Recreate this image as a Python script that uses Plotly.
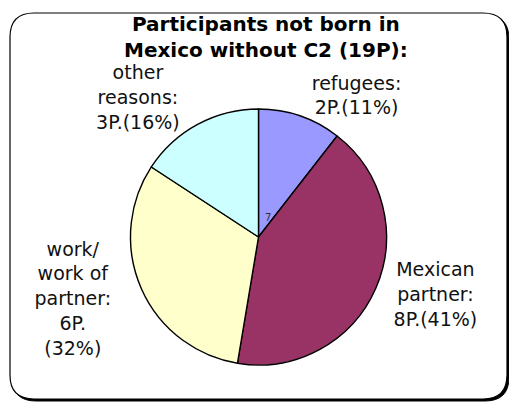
import plotly.graph_objects as go

W, H = 509, 403

# ---- data ----
categories = ["refugees", "Mexican partner", "work/work of partner", "other reasons"]
participants = [2, 8, 6, 3]
percent_shown = [11, 41, 32, 16]
label_heads = ["refugees:", "Mexican<br>partner:", "work/<br>work of<br>partner:", "other<br>reasons:"]
count_sep = ["<br>", "<br>", "<br>", "<br>"]
pct_sep = ["", "", "<br>", ""]
colors = ["#9999FF", "#993366", "#FFFFCC", "#CCFFFF"]
title_lines = ["Participants not born in", "Mexico without C2 (19P):"]

texts = [f"{h}{cs}{n}P.{ps}({p}%)" for h, cs, n, ps, p in
         zip(label_heads, count_sep, participants, pct_sep, percent_shown)]

# ---- layout helpers (pixels -> paper) ----
def px(x):
    return x / W

def py(y):
    return 1 - y / H

cx, cy, r = 258.5, 237, 128

fig = go.Figure()
fig.add_trace(go.Pie(
    labels=categories,
    values=participants,
    text=texts,
    textinfo="text",
    textposition="outside",
    sort=False,
    direction="clockwise",
    rotation=0,
    marker=dict(colors=colors, line=dict(color="black", width=1.4)),
    textfont=dict(family="DejaVu Sans", size=19, color="#111111"),
    hoverinfo="label+value",
    showlegend=False,
    domain=dict(x=[px(cx - r), px(cx + r)], y=[py(cy + r), py(cy - r)]),
))

def rrect(x0, y0, x1, y1, rad):
    rx, ry = rad / W, rad / H
    X0, X1 = px(x0), px(x1)
    Y0, Y1 = py(y0), py(y1)
    return (f"M {X0+rx},{Y0} L {X1-rx},{Y0} Q {X1},{Y0} {X1},{Y0-ry} "
            f"L {X1},{Y1+ry} Q {X1},{Y1} {X1-rx},{Y1} "
            f"L {X0+rx},{Y1} Q {X0},{Y1} {X0},{Y1+ry} "
            f"L {X0},{Y0-ry} Q {X0},{Y0} {X0+rx},{Y0} Z")

shapes = [
    dict(type="path", xref="paper", yref="paper", layer="below",
         path=rrect(12, 15, 509, 401, 24), fillcolor="black",
         line=dict(color="black", width=1)),
    dict(type="path", xref="paper", yref="paper", layer="below",
         path=rrect(10, 13, 507, 399, 24), fillcolor="white",
         line=dict(color="black", width=1.2)),
]

fig.update_layout(
    width=W, height=H,
    margin=dict(l=0, r=0, t=0, b=0),
    paper_bgcolor="white",
    plot_bgcolor="white",
    shapes=shapes,
    annotations=[
        dict(text="<b>" + "<br>".join(title_lines) + "</b>", xref="paper", yref="paper",
             x=px(266), y=py(10), xanchor="center", yanchor="top", showarrow=False,
             font=dict(family="DejaVu Sans", size=20, color="black")),
        dict(text="7", xref="paper", yref="paper", x=px(268), y=py(217),
             showarrow=False, font=dict(family="DejaVu Sans", size=10, color="#333333")),
    ],
)

fig.write_html("out.html")
